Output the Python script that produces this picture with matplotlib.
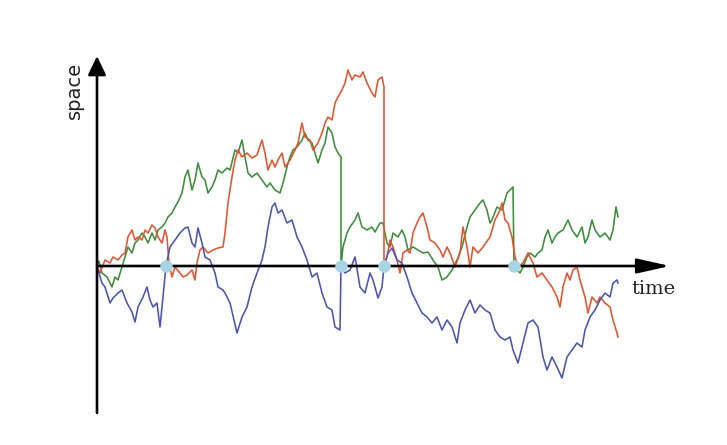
import matplotlib

matplotlib.use("Agg")
import matplotlib.pyplot as plt

# three sample paths: time / space values
green_t = [0, 2, 5, 10, 15, 18, 21, 25, 28, 31,
           35, 38, 41, 45, 48, 51, 55, 58, 61, 65,
           68, 71, 75, 78, 81, 85, 88, 91, 95, 98,
           101, 105, 108, 111, 115, 118, 121, 125, 130, 133,
           138, 141, 145, 148, 151, 155, 160, 165, 170, 173,
           178, 183, 186, 190, 193, 196, 200, 205, 208, 211,
           215, 218, 221, 225, 228, 231, 235, 238, 241, 244,
           244, 246, 250, 253, 258, 261, 265, 270, 275, 278,
           283, 286, 290, 293, 296, 301, 305, 308, 311, 316,
           321, 326, 331, 336, 341, 345, 350, 355, 360, 365,
           370, 373, 378, 383, 386, 390, 393, 395, 400, 405,
           410, 413, 416, 417, 420, 423, 426, 430, 433, 438,
           441, 445, 448, 451, 455, 458, 461, 466, 471, 475,
           480, 485, 488, 491, 495, 498, 503, 508, 513, 516,
           519, 521]
green_s = [0, 5, -7, -11, -21, -11, -14, -1, 9, 19,
           13, 23, 26, 33, 29, 23, 33, 26, 36, 39,
           43, 49, 53, 59, 64, 73, 89, 96, 76, 86,
           103, 89, 86, 73, 79, 86, 96, 93, 98, 96,
           116, 113, 126, 109, 93, 89, 93, 86, 79, 83,
           76, 73, 83, 99, 109, 116, 119, 126, 133, 126,
           123, 113, 103, 116, 123, 139, 133, 119, 113, 109,
           0, 19, 33, 39, 46, 53, 39, 36, 39, 34,
           43, 43, 23, 19, 33, 29, 36, 29, 16, 19,
           16, 13, 14, 6, -1, -14, -11, -4, 6, 19,
           39, 49, 56, 63, 66, 56, 43, 46, 59, 56,
           73, 76, 79, 0, -4, -7, -1, 9, 13, 9,
           13, 16, 29, 36, 23, 29, 33, 36, 46, 36,
           29, 39, 23, 29, 46, 36, 29, 33, 26, 36,
           59, 49]

red_t = [0, 3, 8, 13, 16, 21, 25, 28, 31, 35,
         38, 41, 45, 48, 51, 55, 58, 61, 65, 68,
         70, 72, 75, 78, 83, 86, 90, 95, 98, 100,
         103, 106, 111, 116, 121, 126, 128, 131, 135, 138,
         141, 145, 150, 155, 160, 165, 168, 171, 175, 178,
         181, 185, 188, 193, 198, 201, 205, 208, 213, 216,
         221, 225, 228, 231, 235, 238, 241, 245, 248, 251,
         255, 258, 263, 266, 270, 275, 278, 281, 285, 287,
         287, 290, 293, 296, 300, 303, 306, 310, 313, 316,
         320, 323, 326, 330, 333, 338, 343, 346, 350, 353,
         358, 363, 366, 370, 373, 376, 381, 386, 393, 398,
         403, 405, 408, 411, 415, 418, 421, 426, 431, 436,
         440, 445, 450, 455, 460, 463, 466, 470, 473, 476,
         480, 483, 488, 491, 495, 500, 503, 508, 513, 516,
         520, 521]
red_s = [0, -7, 6, 3, 9, 6, 11, 13, 29, 36,
         26, 29, 26, 36, 33, 41, 38, 29, 23, 36,
         29, 3, -11, -1, -7, -11, -9, -4, -14, 3,
         16, 19, 13, 16, 18, 19, 33, 63, 89, 106,
         116, 109, 113, 108, 111, 126, 113, 96, 106, 99,
         106, 113, 99, 106, 116, 123, 143, 129, 126, 116,
         123, 133, 143, 149, 146, 163, 169, 176, 183, 196,
         186, 191, 189, 194, 183, 173, 169, 186, 189, 179,
         0, 9, 26, 19, 6, -7, 13, 16, 13, 33,
         43, 49, 53, 39, 26, 23, 16, 9, 19, 13,
         -1, 13, 39, 19, -1, 19, 13, 19, 29, 46,
         56, 63, 46, 43, 29, 9, -1, 3, 13, 3,
         -11, -7, -14, -21, -31, -41, -21, -7, -14, -4,
         -1, -14, -31, -47, -31, -37, -31, -37, -41, -54,
         -67, -71]

blue_t = [0, 1, 5, 8, 13, 16, 21, 25, 30, 35,
          38, 41, 46, 50, 53, 56, 60, 63, 66, 69,
          73, 78, 83, 88, 91, 95, 98, 101, 105, 108,
          113, 118, 121, 126, 128, 133, 140, 145, 150, 155,
          160, 165, 168, 171, 175, 178, 181, 185, 190, 195,
          200, 205, 210, 215, 220, 225, 230, 235, 238, 243,
          244, 248, 253, 258, 263, 268, 273, 276, 281, 285,
          287, 291, 295, 300, 305, 310, 315, 320, 325, 330,
          335, 340, 345, 350, 355, 360, 363, 368, 373, 378,
          383, 388, 393, 398, 403, 408, 413, 416, 421, 426,
          431, 436, 441, 446, 450, 455, 460, 465, 470, 475,
          480, 485, 488, 493, 498, 503, 508, 513, 516, 520,
          521]
blue_s = [0, -4, -17, -21, -37, -32, -27, -24, -37, -46,
          -56, -41, -31, -21, -34, -41, -37, -61, -31, 0,
          19, 26, 33, 38, 39, 23, 19, 38, 23, 9,
          6, -7, -21, -24, -27, -37, -67, -51, -41, -21,
          -7, 6, 19, 39, 59, 63, 53, 56, 43, 46,
          29, 19, 6, -11, -7, -27, -41, -44, -61, -64,
          0, -7, -4, 9, -21, -27, -7, -14, -32, -21,
          0, 13, 18, 6, 3, -11, -27, -37, -47, -51,
          -57, -51, -64, -54, -61, -77, -57, -44, -34, -47,
          -39, -44, -47, -64, -71, -74, -71, -84, -97, -77,
          -57, -54, -61, -91, -104, -91, -101, -112, -91, -84,
          -77, -81, -64, -51, -44, -34, -27, -31, -17, -14,
          -17]

# times where a path hits zero
event_t = [69, 244, 287, 417]

fig = plt.figure(figsize=(7.27, 4.45), dpi=100)
ax = fig.add_axes([0, 0, 1, 1])
ax.set_xlim(-97, 630)
ax.set_ylim(-179, 266)
ax.axis("off")

lw = 1.15
ax.plot(green_t, green_s, color="#3c8d3c", lw=lw, zorder=3)
ax.plot(red_t, red_s, color="#e4542e", lw=lw, zorder=3)
ax.plot(blue_t, blue_s, color="#4a55b0", lw=lw, zorder=3)

# axes drawn as arrows
ax.annotate("", xy=(573, 0), xytext=(0, 0),
            arrowprops=dict(arrowstyle="-|>,head_length=2.0,head_width=0.45",
                            mutation_scale=10, lw=1.9, color="black",
                            shrinkA=0, shrinkB=0), zorder=4)
ax.annotate("", xy=(0, 210), xytext=(0, -147),
            arrowprops=dict(arrowstyle="-|>,head_length=1.15,head_width=0.55",
                            mutation_scale=10, lw=1.9, color="black",
                            shrinkA=0, shrinkB=0), zorder=4)

ax.plot(event_t, [0] * len(event_t), "o", color="#a9d4e4", ms=9,
        mec="none", zorder=5)

ax.text(-23, 176, "space", rotation=90, ha="center", va="center",
        fontsize=14, family="DejaVu Sans", color="#222222")
ax.text(556, -23, "time", ha="center", va="center",
        fontsize=14, family="DejaVu Serif", color="#222222")

fig.savefig("out.png", dpi=100, facecolor="white")
